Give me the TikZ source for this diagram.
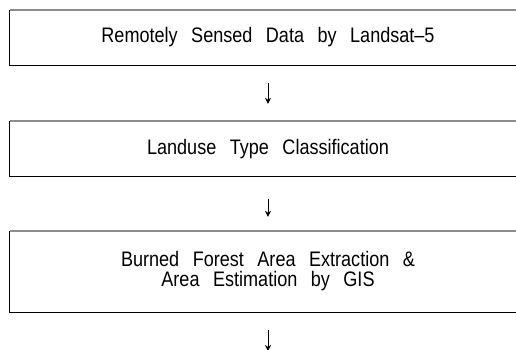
\documentclass[tikz,border=0pt]{standalone}
\usepackage{fontspec}
\setmainfont[FakeStretch=0.86]{Liberation Sans}
\usetikzlibrary{arrows.meta}
\newcommand\stagefont{\fontsize{21}{20}\selectfont}
\tikzset{
  stagebox/.style={draw=none, inner sep=0pt, align=center,
    font=\stagefont, execute at begin node={\spaceskip=13.5pt plus 1pt\relax}},
  boxedge/.style={line width=1.1pt, draw=black},
  boxtop/.style={line width=1.6pt, draw=black!45},
  flowarrow/.style={line width=0.8pt, -{Stealth[length=6pt,width=6pt]}}
}
\begin{document}
\begin{tikzpicture}[x=1pt,y=-1pt]
\useasboundingbox (0,0) rectangle (516,349);
\clip (0,0) rectangle (516,349);

% three processing stages
\node[stagebox, minimum width=516pt, minimum height=55pt] (s1) at (268,37.5)
  {Remotely Sensed Data by Landsat–5};
\node[stagebox, minimum width=516pt, minimum height=55.5pt] (s2) at (268,148.75)
  {Landuse Type Classification};
\node[stagebox, minimum width=516pt, minimum height=81pt] (s3) at (268,271.5)
  {Burned Forest Area Extraction \&\\Area Estimation by GIS};

% frames: black sides and bottom, grey top rule
\foreach \b in {s1,s2,s3}{
  \draw[boxedge] (\b.north west) -- (\b.south west) -- (\b.south east) -- (\b.north east);
  \draw[boxtop] (\b.north west) -- (\b.north east);
}

% flow arrows
\coordinate (out) at (268,351);
\draw[flowarrow, shorten <=18pt, shorten >=17pt] (s1.south) -- (s2.north);
\draw[flowarrow, shorten <=22pt, shorten >=14pt] (s2.south) -- (s3.north);
\draw[flowarrow, shorten <=18pt] (s3.south) -- (out);
\end{tikzpicture}
\end{document}
